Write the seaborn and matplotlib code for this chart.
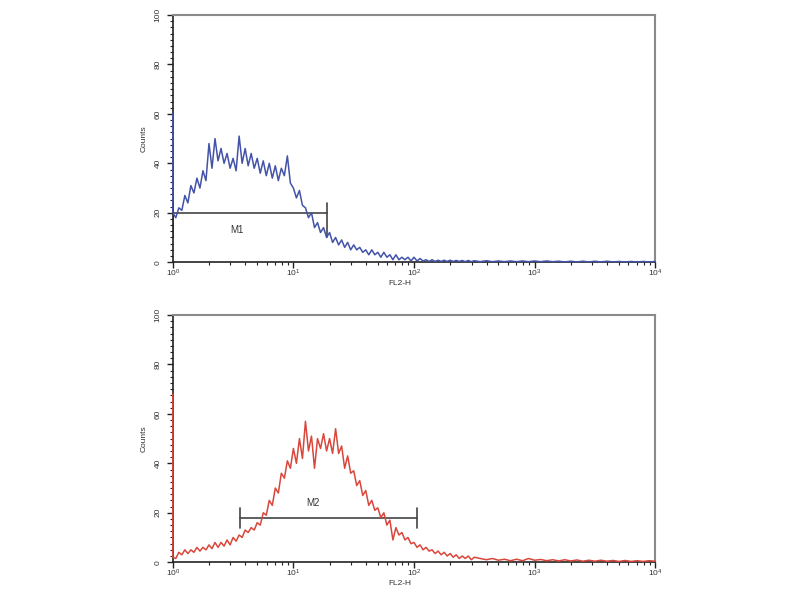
import matplotlib
matplotlib.use("Agg")
import matplotlib.pyplot as plt
import matplotlib.ticker as mticker
import numpy as np
import pandas as pd
import seaborn as sns

# histogram channels, in decades of FL2-H (10**d); the first channel is
# listed twice because it holds the off-scale pile-up drawn on the axis
DECADES = [
    0.000,
    0.000, 0.025, 0.050, 0.075, 0.100, 0.125, 0.150, 0.175, 0.200, 0.225,
    0.250, 0.275, 0.300, 0.325, 0.350, 0.375, 0.400, 0.425, 0.450, 0.475,
    0.500, 0.525, 0.550, 0.575, 0.600, 0.625, 0.650, 0.675, 0.700, 0.725,
    0.750, 0.775, 0.800, 0.825, 0.850, 0.875, 0.900, 0.925, 0.950, 0.975,
    1.000, 1.025, 1.050, 1.075, 1.100, 1.125, 1.150, 1.175, 1.200, 1.225,
    1.250, 1.275, 1.300, 1.325, 1.350, 1.375, 1.400, 1.425, 1.450, 1.475,
    1.500, 1.525, 1.550, 1.575, 1.600, 1.625, 1.650, 1.675, 1.700, 1.725,
    1.750, 1.775, 1.800, 1.825, 1.850, 1.875, 1.900, 1.925, 1.950, 1.975,
    2.000, 2.025, 2.050, 2.075, 2.100, 2.125, 2.150, 2.175, 2.200, 2.225,
    2.250, 2.275, 2.300, 2.325, 2.350, 2.375, 2.400, 2.425, 2.450, 2.475,
    2.500, 2.550, 2.600, 2.650, 2.700, 2.750, 2.800, 2.850, 2.900, 2.950,
    3.000, 3.050, 3.100, 3.150, 3.200, 3.250, 3.300, 3.350, 3.400, 3.450,
    3.500, 3.550, 3.600, 3.650, 3.700, 3.750, 3.800, 3.850, 3.900, 3.950,
    4.000,
]

BLUE_COUNTS = [
    60,
    20, 18, 22, 21, 27, 24, 31, 28, 34, 30,
    37, 33, 48, 38, 50, 41, 46, 40, 44, 38,
    42, 37, 51, 40, 46, 39, 44, 38, 42, 36,
    41, 35, 40, 34, 39, 33, 38, 35, 43, 32,
    30, 26, 29, 23, 22, 18, 20, 14, 16, 12,
    14, 10, 12, 8, 10, 7, 9, 6, 8, 5,
    7, 5, 6, 4, 5, 3, 5, 3, 4, 2,
    4, 2, 3, 1, 3, 1, 2, 1, 2, 0.5,
    2, 0.5, 1.5, 0.5, 1, 0.3, 1, 0.3, 0.8, 0.3,
    0.8, 0.3, 0.8, 0.3, 0.7, 0.3, 0.7, 0.2, 0.7, 0.2,
    0.6, 0.2, 0.6, 0.2, 0.5, 0.2, 0.5, 0.2, 0.5, 0.2,
    0.5, 0.2, 0.5, 0.2, 0.4, 0.1, 0.4, 0.1, 0.4, 0.1,
    0.4, 0.1, 0.4, 0.1, 0.3, 0.1, 0.3, 0.1, 0.3, 0.1,
    0.3,
]

RED_COUNTS = [
    68,
    2, 1.5, 4, 3, 5, 3.5, 5, 4, 6, 4.5,
    6, 5, 7, 5.5, 8, 6, 8, 6.5, 9, 7,
    10, 8.5, 11, 10, 13, 12, 14, 13, 16, 15,
    20, 19, 25, 23, 30, 28, 36, 34, 41, 38,
    46, 40, 50, 42, 57, 45, 51, 38, 50, 46,
    52, 45, 50, 44, 54, 44, 47, 38, 43, 36,
    37, 31, 33, 27, 29, 23, 25, 21, 22, 18,
    20, 15, 17, 9, 14, 11, 12, 9, 10, 7.5,
    8, 6, 7, 5, 6, 4.5, 5, 3.5, 4.5, 3,
    4, 2.5, 3.5, 2, 3, 1.5, 2.5, 1.5, 2.5, 1,
    2, 1.5, 1, 1.5, 0.8, 1.2, 0.6, 1.2, 0.6, 1.5,
    0.8, 1.1, 0.6, 1, 0.5, 1, 0.5, 0.9, 0.4, 0.8,
    0.4, 0.8, 0.4, 0.7, 0.3, 0.7, 0.3, 0.6, 0.3, 0.6,
    0.4,
]

# gates: (start, end, count level, tick low, tick high)
M1_GATE = (1.0, 19.0, 20.0, 10.0, 24.0)
M2_GATE = (3.6, 105.0, 18.0, 14.0, 22.0)

sns.set_style("ticks")
plt.rcParams["font.family"] = ["Liberation Sans", "DejaVu Sans"]

TEXT = "#333333"


def draw_panel(ax, counts, color, gate, gate_name, name_pos):
    df = pd.DataFrame({"FL2-H": 10 ** np.array(DECADES), "Counts": counts})
    sns.lineplot(data=df, x="FL2-H", y="Counts", ax=ax, color=color, lw=1.1,
                 estimator=None, sort=False, zorder=3, clip_on=False)
    ax.set_xscale("log")
    ax.set_xlim(1, 1e4)
    ax.set_ylim(0, 100)

    # gate marker
    start, end, level, lo, hi = gate
    ax.plot([start, end], [level, level], color="#444444", lw=1.2)
    ax.plot([start, start], [lo, hi], color="#444444", lw=1.2)
    ax.plot([end, end], [lo, hi], color="#444444", lw=1.2)
    ax.text(name_pos[0], name_pos[1], gate_name, ha="center", va="center",
            fontsize=7, color=TEXT)

    ax.yaxis.set_major_locator(mticker.MultipleLocator(20))
    ax.yaxis.set_minor_locator(mticker.MultipleLocator(2.5))
    ax.xaxis.set_major_locator(mticker.LogLocator(base=10))
    ax.xaxis.set_minor_locator(mticker.LogLocator(base=10, subs=np.arange(2, 10)))
    ax.xaxis.set_minor_formatter(mticker.NullFormatter())
    ax.tick_params(axis="y", which="major", pad=4)
    ax.tick_params(axis="x", which="major", pad=0)
    ax.tick_params(axis="both", which="major", labelsize=6, length=4,
                   width=1, colors="#222222", labelcolor=TEXT)
    ax.tick_params(axis="both", which="minor", length=2, width=0.8,
                   colors="#222222")
    for lab in ax.get_yticklabels():
        lab.set_rotation(90)
        lab.set_va("center")

    ax.set_xlabel("FL2-H", fontsize=6, color=TEXT)
    ax.xaxis.set_label_coords(0.47, -0.072)
    ax.set_ylabel("Counts", fontsize=6, color=TEXT, labelpad=5)

    for side in ["left", "bottom"]:
        ax.spines[side].set_color("#222222")
        ax.spines[side].set_linewidth(1.2)
    for side in ["top", "right"]:
        ax.spines[side].set_visible(True)
        ax.spines[side].set_color("#8a8a8a")
        ax.spines[side].set_linewidth(1.5)


fig = plt.figure(figsize=(8, 6), dpi=100)
ax_top = fig.add_axes([0.216, 0.563, 0.603, 0.412])
ax_bot = fig.add_axes([0.216, 0.063, 0.603, 0.412])

draw_panel(ax_top, BLUE_COUNTS, "#4353a8", M1_GATE, "M1", (3.4, 13))
draw_panel(ax_bot, RED_COUNTS, "#d8473c", M2_GATE, "M2", (14.5, 24))

fig.savefig("out.png", dpi=100)
